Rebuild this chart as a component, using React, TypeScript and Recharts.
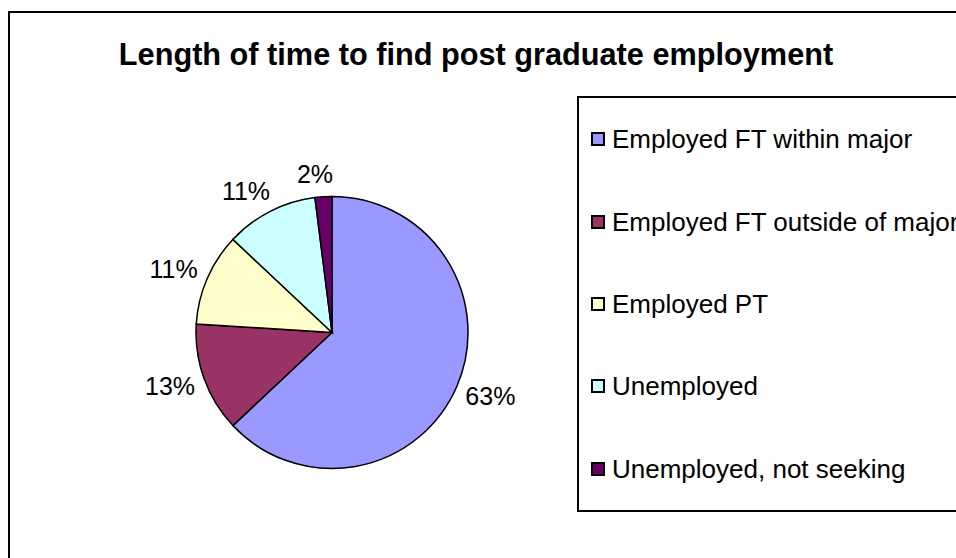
import React from 'react'
import { PieChart, Pie, Cell, Legend } from 'recharts';

// Chart data
const categories = [
  'Employed FT within major',
  'Employed FT outside of major',
  'Employed PT',
  'Unemployed',
  'Unemployed, not seeking'
];
const shares = [63, 13, 11, 11, 2];
const sliceColors = ['#9999FF', '#993366', '#FFFFCC', '#CCFFFF', '#660066'];
const title = 'Length of time to find post graduate employment';

const font = '"Liberation Sans", Arial, sans-serif';
const labelSize = 25;

function App() {
  const pieData = categories.map((name, i) => ({ name, value: shares[i] }));

  // put the % label just outside the slice, like excel does
  const renderLabel = (props: any) => {
    const { cx, cy, midAngle, outerRadius, value, index } = props;
    const rad = Math.PI / 180;
    const cos = Math.cos(midAngle * rad);
    const sin = Math.sin(midAngle * rad);
    const text = `${value}%`;
    const w = (text.length - 1) * 0.556 * labelSize + 0.889 * labelSize;
    const h = labelSize * 1.05;
    const gap = 10;
    const fx = Math.sign(cos) * Math.pow(Math.abs(cos), 0.3);
    const x = cx + (outerRadius + gap) * cos + (w / 2) * fx;
    const y = cy - (outerRadius + gap) * sin - (h / 2) * sin;
    return (
      <text key={`lbl-${index}`} x={x} y={y} textAnchor="middle" dominantBaseline="central"
        fill="#000" fontSize={labelSize} fontFamily={font}>
        {text}
      </text>
    );
  };

  // legend box runs off the right edge like in the original
  const renderLegend = () => (
    <div style={{ height: '100%', display: 'flex', flexDirection: 'column', justifyContent: 'space-around' }}>
      {categories.map((c, i) => (
        <div key={c} style={{ display: 'flex', alignItems: 'center', whiteSpace: 'nowrap' }}>
          <span style={{ display: 'inline-block', width: 14, height: 14, boxSizing: 'border-box', border: '2px solid #000', background: sliceColors[i], marginLeft: 12, marginRight: 7 }} />
          <span style={{ fontSize: 26, color: '#000', lineHeight: 1 }}>{c}</span>
        </div>
      ))}
    </div>
  );

  return (
    <div style={{ position: 'fixed', left: 0, top: 0, width: 956, height: 558, overflow: 'hidden', background: '#fff', fontFamily: font }}>
      {/* outer chart frame, runs off the right and bottom edges */}
      <div style={{ position: 'absolute', left: 8, top: 11, width: 1000, height: 600, border: '2px solid #000', boxSizing: 'border-box' }} />
      <div style={{ position: 'absolute', left: 0, width: 956, top: 40, textAlign: 'center', fontSize: 30.7, fontWeight: 'bold', lineHeight: 1, paddingRight: 4, boxSizing: 'border-box' }}>
        {title}
      </div>
      <div style={{ position: 'absolute', left: 0, top: 0 }}>
        <PieChart width={956} height={558}>
          <Pie
            data={pieData}
            dataKey="value"
            nameKey="name"
            cx={327}
            cy={327.5}
            outerRadius={136}
            startAngle={90}
            endAngle={-270}
            stroke="#000"
            strokeWidth={1.5}
            label={renderLabel}
            labelLine={false}
            isAnimationActive={false}
          >
            {pieData.map((d, i) => (
              <Cell key={d.name} fill={sliceColors[i]} />
            ))}
          </Pie>
          <Legend
            content={renderLegend}
            wrapperStyle={{ position: 'absolute', left: 577, top: 96, width: 420, height: 416, border: '2px solid #000', boxSizing: 'border-box', background: '#fff' }}
          />
        </PieChart>
      </div>
    </div>
  )
}

export default App
